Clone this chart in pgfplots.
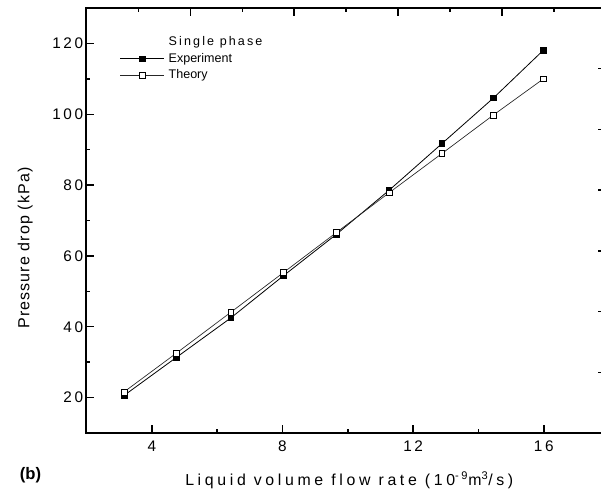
\documentclass[border=0pt]{standalone}
\usepackage{fontspec}
\setmainfont{Liberation Sans}
\newfontfamily\spaced[LetterSpace=17]{Liberation Sans}
\newfontfamily\widespaced[LetterSpace=23]{Liberation Sans}
\newfontfamily\lightspaced[LetterSpace=7]{Liberation Sans}
\usepackage{pgfplots}
\pgfplotsset{compat=1.18}
\usetikzlibrary{calc}

\begin{document}
\begin{tikzpicture}
\begin{axis}[
  name=main,
  scale only axis, clip=false,
  width=389.5pt, height=318.75pt,
  xmin=2, xmax=17.9, ymin=10, ymax=130,
  xtick={4,8,12,16}, minor xtick={6,10,14},
  ytick={20,40,...,120}, minor ytick={30,50,...,110},
  xtick pos=bottom, ytick pos=left,
  tick align=inside,
  major tick length=6pt, minor tick length=3pt,
  every tick/.style={black, line width=1.1pt},
  axis line style={line width=1.5pt},
  /pgf/number format/assume math mode=true,
  ticklabel style={font=\spaced\fontsize{11.5}{13}\selectfont},
  xticklabel style={yshift=-2.5pt},
  yticklabel style={xshift=1pt},
  xlabel={Liquid volume flow rate (10\textsuperscript{-9}m\textsuperscript{3}/s)},
  xlabel style={font=\widespaced\fontsize{11.9}{14}\selectfont, at={(axis description cs:0.506,-0.111)}, anchor=center},
  ylabel={Pressure drop (kPa)},
  ylabel style={font=\lightspaced\fontsize{12}{14}\selectfont, at={(axis description cs:-0.118,0.435)}, anchor=center},
  legend style={at={(axis description cs:0.064,0.934)}, anchor=north west,
    draw=none, fill=none, inner sep=0pt, row sep=3.4pt, column sep=3.5pt,
    nodes={inner sep=0pt, text height=7pt, text depth=2pt},
    font=\fontsize{9.4}{11}\selectfont},
  legend cell align=left,
  legend image code/.code={\draw[mark repeat=2,mark phase=2] plot coordinates {(0pt,0pt)(16.2pt,0pt)(32.4pt,0pt)};},
]
\addlegendimage{empty legend}
\addlegendentry{{\spaced Single phase}}

% measured pressure drop
\addplot[black, line width=0.6pt, mark=square*, mark size=2.2pt, mark options={fill=black}]
  coordinates {(3.15,20.6)(4.76,31.4)(6.42,42.5)(8.03,54.4)(9.65,66.1)(11.26,78.5)(12.88,91.7)(14.46,104.6)(15.99,118.1)};
\addlegendentry{Experiment}

% model prediction
\addplot[black!85, line width=0.5pt, mark=square*, mark size=2.2pt, mark options={fill=white, draw=black, line width=0.5pt}]
  coordinates {(3.15,21.6)(4.76,32.6)(6.42,44.1)(8.03,55.3)(9.65,66.6)(11.26,77.8)(12.88,88.9)(14.46,99.8)(15.99,110.0)};
\addlegendentry{Theory}

\node[font=\bfseries\fontsize{12.5}{14}\selectfont, anchor=center] at (axis description cs:-0.108,-0.099) {(b)};
\end{axis}

% secondary tick frame on the top and right edges
\begin{axis}[
  scale only axis,
  width=389.5pt, height=318.75pt,
  xmin=0, xmax=10, ymin=0, ymax=7,
  xtick={0,2,...,10}, minor xtick={1,3,...,9},
  ytick={0,1,...,7},
  xtick pos=top, ytick pos=right,
  xticklabels={}, yticklabels={},
  tick align=inside,
  major tick length=6pt, minor tick length=3pt,
  every tick/.style={black, line width=1.1pt},
  axis line style={draw=none},
]
\end{axis}

\pgfresetboundingbox
\path[use as bounding box] ($(main.south west)+(-64.875pt,-45pt)$) rectangle ($(main.south west)+(385.875pt,324.75pt)$);
\end{tikzpicture}
\end{document}
